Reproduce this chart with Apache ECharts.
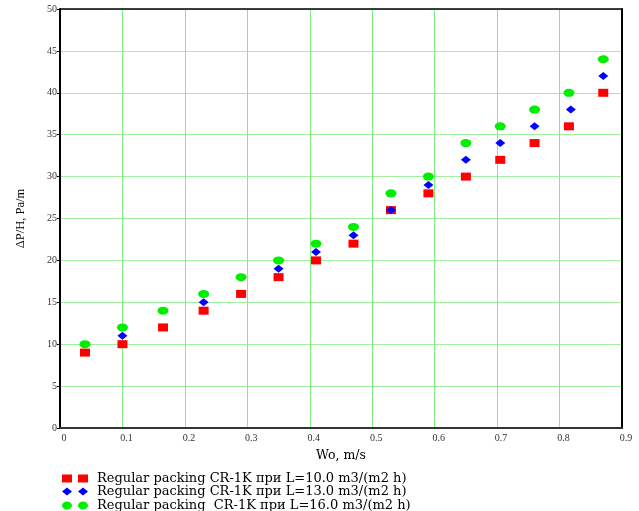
<!DOCTYPE html>
<html>
<head>
<meta charset="utf-8">
<script src="https://cdn.jsdelivr.net/npm/echarts@6/dist/echarts.min.js"></script>
<style>
  html, body { margin: 0; padding: 0; background: #fff; }
  #chart { width: 639px; height: 511px; }
</style>
</head>
<body>
<div id="chart"></div>
<script>
// flow velocity Wo, m/s
const xRed = [0.04, 0.1, 0.165, 0.23, 0.29, 0.35, 0.41, 0.47, 0.53, 0.59, 0.65, 0.705, 0.76, 0.815, 0.87];
const yRed = [9, 10, 12, 14, 16, 18, 20, 22, 26, 28, 30, 32, 34, 36, 40];

const xBlue = [0.1, 0.23, 0.35, 0.41, 0.47, 0.53, 0.59, 0.65, 0.705, 0.76, 0.818, 0.87];
const yBlue = [11, 15, 19, 21, 23, 26, 29, 32, 34, 36, 38, 42];

const xGreen = [0.04, 0.1, 0.165, 0.23, 0.29, 0.35, 0.41, 0.47, 0.53, 0.59, 0.65, 0.705, 0.76, 0.815, 0.87];
const yGreen = [10, 12, 14, 16, 18, 20, 22, 24, 28, 30, 34, 36, 38, 40, 44];

const names = [
  "Regular packing CR-1K при L=10.0 m3/(m2 h)",
  "Regular packing CR-1K при L=13.0 m3/(m2 h)",
  "Regular packing  CR-1K при L=16.0 m3/(m2 h)",
];
const icons = [
  "path://M0,0h10v8h-10z M16,0h10v8h-10z",
  "path://M0,4L5,0L10,4L5,8z M16,4L21,0L26,4L21,8z",
  "path://M0,4a5,4 0 1,0 10,0a5,4 0 1,0 -10,0z M16,4a5,4 0 1,0 10,0a5,4 0 1,0 -10,0z",
];

const zip = (xs, ys) => xs.map((x, i) => [x, ys[i]]);

const chart = echarts.init(document.getElementById("chart"));
const serif = "Liberation Serif";
const wideSerif = "DejaVu Serif";

const legendRow = (i, top) => ({
  left: 57,
  top: top,
  itemWidth: 26,
  itemHeight: 8,
  textStyle: { fontFamily: wideSerif, fontSize: 13, color: "#000", padding: [0, 0, 0, 4] },
  data: [{ name: names[i], icon: icons[i] }],
});

const option = {
  animation: false,
  textStyle: { fontFamily: serif },
  grid: { left: 60, right: 17, top: 9, bottom: 83 },
  legend: [legendRow(0, 467), legendRow(1, 480), legendRow(2, 494)],
  xAxis: [
    {
      type: "value",
      min: 0,
      max: 0.9,
      interval: 0.1,
      name: "Wo, m/s",
      nameLocation: "middle",
      nameGap: 21,
      nameTextStyle: { fontFamily: wideSerif, fontSize: 12.5, color: "#000" },
      axisLine: { lineStyle: { color: "#333", width: 2 } },
      axisTick: { show: false },
      axisLabel: { fontFamily: serif, fontSize: 10, color: "#333", padding: [0, 0, 0, 8], margin: 5 },
      splitLine: { lineStyle: { color: "#7ef07e", width: 1 } },
    },
    {
      type: "value",
      position: "top",
      min: 0,
      max: 0.9,
      axisLine: { show: true, onZero: false, lineStyle: { color: "#000", width: 1.5 } },
      axisTick: { show: false },
      axisLabel: { show: false },
      splitLine: { show: false },
    },
  ],
  yAxis: [
    {
      type: "value",
      min: 0,
      max: 50,
      interval: 5,
      name: "ΔP/H, Pa/m",
      nameLocation: "middle",
      nameGap: 33,
      nameTextStyle: { fontFamily: serif, fontSize: 12.5, color: "#000" },
      axisLine: { show: true, lineStyle: { color: "#000", width: 2 } },
      axisTick: { show: true, length: 3, lineStyle: { color: "#000" } },
      axisLabel: { fontFamily: serif, fontSize: 10, color: "#333", margin: 3 },
      splitLine: { lineStyle: { color: "#a0f0a0", width: 1 } },
    },
    {
      type: "value",
      position: "right",
      min: 0,
      max: 50,
      axisLine: { show: true, onZero: false, lineStyle: { color: "#000", width: 2 } },
      axisTick: { show: false },
      axisLabel: { show: false },
      splitLine: { show: false },
    },
  ],
  series: [
    {
      name: names[0],
      type: "scatter",
      symbol: "rect",
      symbolSize: [10, 8],
      itemStyle: { color: "#ff0000", opacity: 1 },
      data: zip(xRed, yRed),
      z: 2,
    },
    {
      name: names[1],
      type: "scatter",
      symbol: "diamond",
      symbolSize: [10, 8],
      itemStyle: { color: "#0000ff", opacity: 1 },
      data: zip(xBlue, yBlue),
      z: 3,
    },
    {
      name: names[2],
      type: "scatter",
      symbol: "circle",
      symbolSize: [11, 8],
      itemStyle: { color: "#00ee00", opacity: 1 },
      data: zip(xGreen, yGreen),
      z: 3,
    },
  ],
};

chart.setOption(option);
</script>
</body>
</html>
